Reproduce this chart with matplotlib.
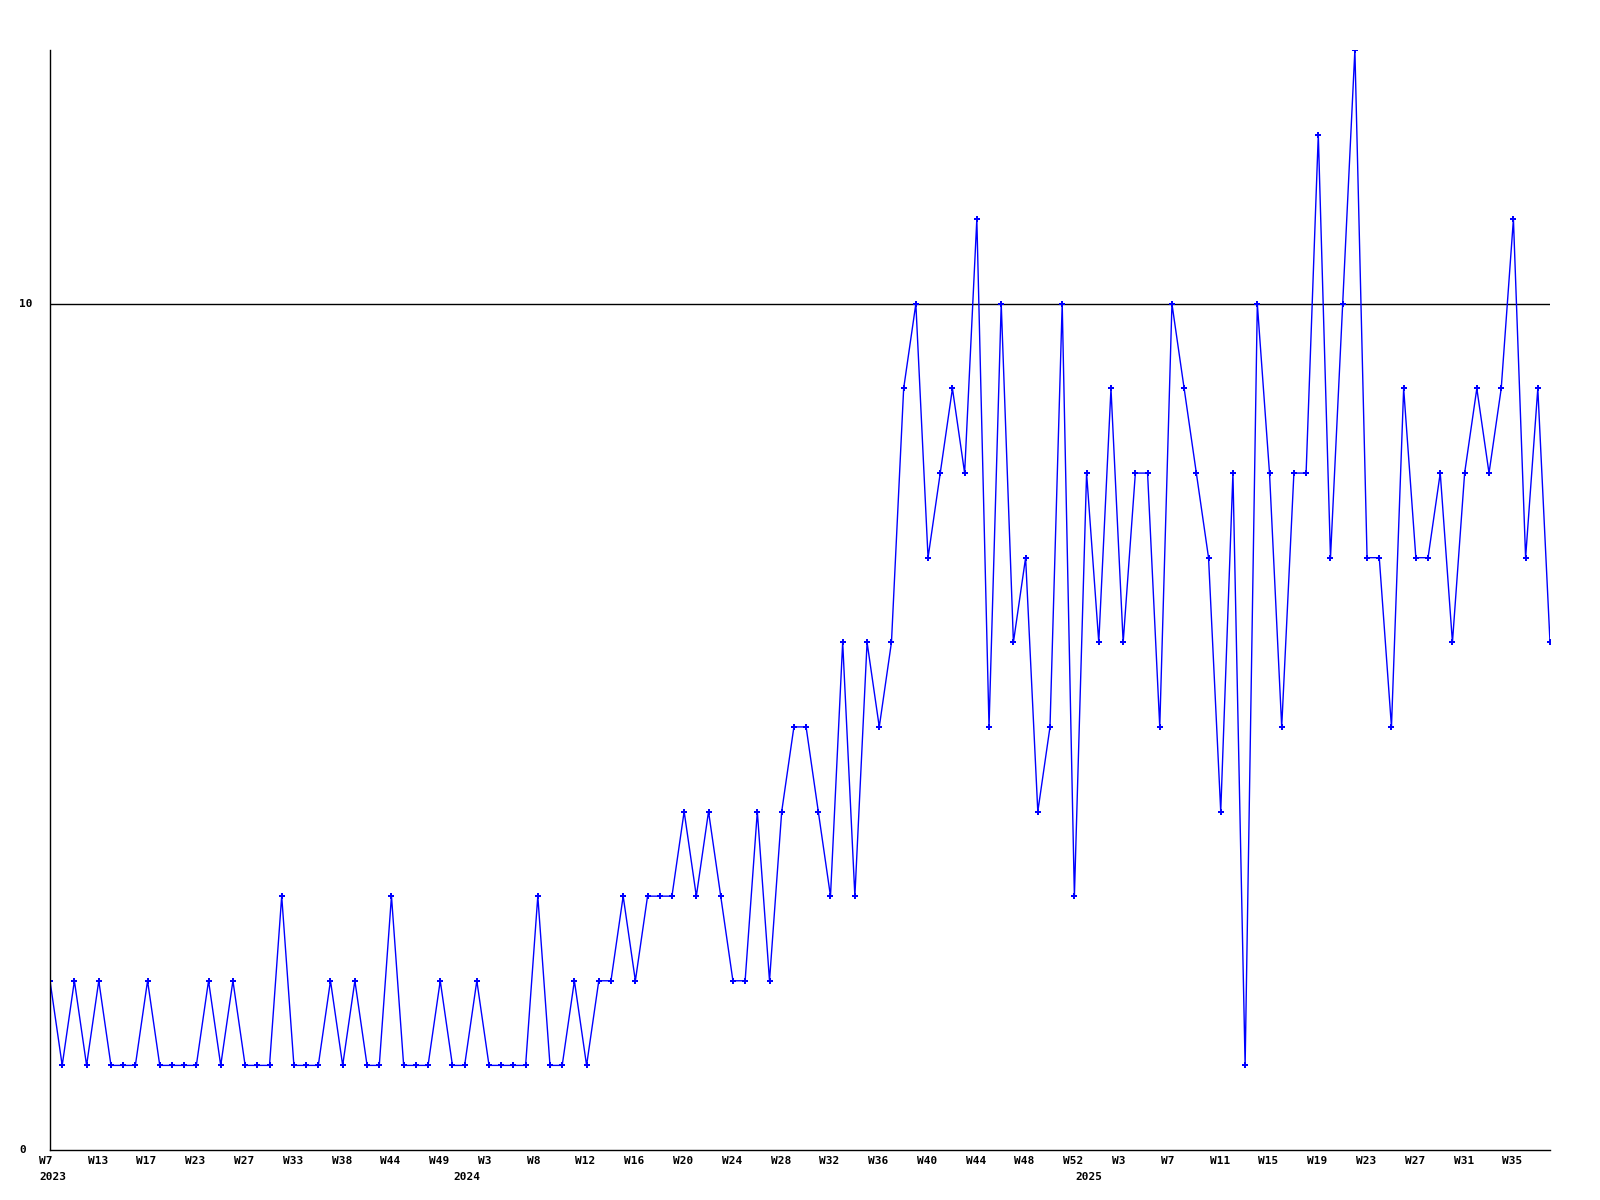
import matplotlib
matplotlib.use("Agg")
import matplotlib.pyplot as plt

# weekly counts, one point per week in the chart
values = [2, 1, 2, 1, 2, 1, 1, 1, 2, 1, 1, 1, 1, 2, 1, 2, 1, 1, 1, 3, 1,
          1, 1, 2, 1, 2, 1, 1, 3, 1, 1, 1, 2, 1, 1, 2, 1, 1, 1, 1, 3, 1,
          1, 2, 1, 2, 2, 3, 2, 3, 3, 3, 4, 3, 4, 3, 2, 2, 4, 2, 4, 5,
          5, 4, 3, 6, 3, 6, 5, 6, 9, 10, 7, 8, 9, 8, 11, 5, 10, 6, 7, 4,
          5, 10, 3, 8, 6, 9, 6, 8, 8, 5, 10, 9, 8, 7, 4, 8, 1, 10, 8, 5,
          8, 8, 12, 7, 10, 13, 7, 7, 5, 9, 7, 7, 8, 6, 8, 9, 8, 9, 11, 7,
          9, 6]

week_labels = ["W7", "W13", "W17", "W23", "W27", "W33", "W38", "W44", "W49",
               "W3", "W8", "W12", "W16", "W20", "W24", "W28", "W32", "W36",
               "W40", "W44", "W48", "W52", "W3", "W7", "W11", "W15", "W19",
               "W23", "W27", "W31", "W35"]
week_pos = list(range(0, 124, 4))

year_labels = ["2023", "2024", "2025"]
year_pos = [0, 34, 85]

y_labels = ["0", "10"]
y_pos = [0, 10]

font = dict(family="DejaVu Sans Mono", weight="bold", size=8)

fig = plt.figure(figsize=(16, 12), dpi=100)
ax = fig.add_axes([50 / 1600, 50 / 1200, 1500 / 1600, 1100 / 1200])

x = list(range(len(values)))
ax.plot(x, values, color="#0000ff", linewidth=1, marker="P", markersize=4,
        markeredgewidth=0)
ax.axhline(10, color="black", linewidth=1, zorder=0)

ax.set_xlim(0, len(values) - 1)
ax.set_ylim(0, 13)
ax.set_xticks([])
ax.set_yticks([])
for s in ["top", "right"]:
    ax.spines[s].set_visible(False)
for s in ["left", "bottom"]:
    ax.spines[s].set_linewidth(1)
    ax.spines[s].set_color("black")

for p, lab in zip(week_pos, week_labels):
    ax.annotate(lab, xy=(p, 0), xycoords=("data", "axes fraction"),
                xytext=(-8, -8), textcoords="offset points",
                ha="left", va="center", **font)

for p, lab in zip(year_pos, year_labels):
    ax.annotate(lab, xy=(p, 0), xycoords=("data", "axes fraction"),
                xytext=(-8, -19.5), textcoords="offset points",
                ha="left", va="center", **font)

for p, lab in zip(y_pos, y_labels):
    ax.annotate(lab, xy=(0, p), xycoords=("axes fraction", "data"),
                xytext=(-22, 0), textcoords="offset points",
                ha="left", va="center", **font)

fig.savefig("out.png", dpi=100)
